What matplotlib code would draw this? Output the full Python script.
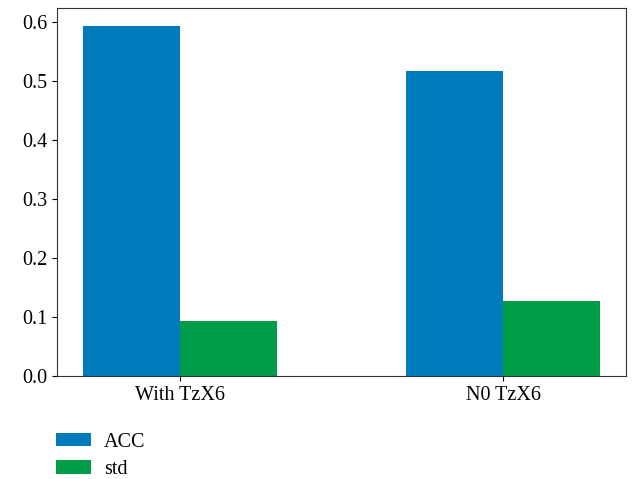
import numpy as np
import matplotlib.pyplot as plt

plt.rcParams['font.family'] = ['Liberation Serif', 'DejaVu Serif']

# Results per setting
groups = ['With TzX6', 'N0 TzX6']
acc = [0.593, 0.517]
std = [0.093, 0.127]

x = np.arange(len(groups))
width = 0.3

fig = plt.figure(figsize=(6.32, 4.79), dpi=100)
ax = fig.add_axes([0.090, 0.215, 0.9005, 0.768])

ax.bar(x - width / 2, acc, width, color='#007BBB', label='ACC')
ax.bar(x + width / 2, std, width, color='#009C48', label='std')

ax.set_xticks(x)
ax.set_xticklabels(groups, fontsize=14.5)
ax.tick_params(axis='y', labelsize=14.5)
ax.set_yticks([0.0, 0.1, 0.2, 0.3, 0.4, 0.5, 0.6])
for s in ax.spines.values():
    s.set_color('#333333')

ax.legend(loc='upper left', bbox_to_anchor=(0.088, 0.097), bbox_transform=fig.transFigure,
          frameon=False, fontsize=14.5, handlelength=1.75, handleheight=0.65,
          handletextpad=0.65, labelspacing=0.42, borderaxespad=0, borderpad=0)

fig.savefig('out.png', dpi=100)
